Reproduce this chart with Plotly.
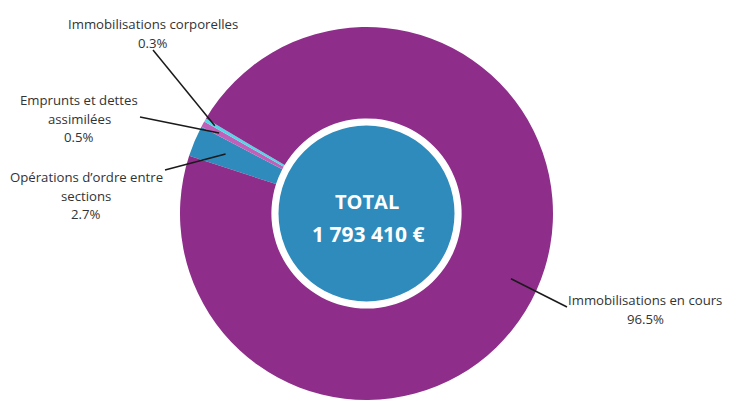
import math
import plotly.graph_objects as go

# data
labels = ["Opérations d’ordre entre sections", "Emprunts et dettes assimilées",
          "Immobilisations corporelles", "Immobilisations en cours"]
shares = [2.7, 0.5, 0.3, 96.5]
colors = ["#2E8BBB", "#C060B8", "#55D6E6", "#8E2E8A"]
total_text = "1 793 410 €"

# how each label is broken into lines
label_lines = [["Opérations d’ordre entre", "sections"],
               ["Emprunts et dettes", "assimilées"],
               ["Immobilisations corporelles"],
               ["Immobilisations en cours"]]

# label placement in screen pixels: text centre x, first line y, leader end, tip radius fraction
label_x = [86, 79, 153, 645]
label_y0 = [177, 100, 24, 300]
line_end = [(165, 170), (140, 117), (153, 50), (567, 307)]
tip_frac = [0.82, 0.9, 0.94, 0.85]
LINE_H = 18.5

# the page body keeps its default 8px margin, so the figure is sized to fit inside it
OFF = 8
W, H = 717, 392
L, R_M, T, B = 0, 0, 19, 0
PW, PH = W - L - R_M, H - T - B


def px(sx):
    return (sx - OFF - L) / PW


def py(sy):
    return 1 - (sy - OFF - T) / PH


cx, cy = OFF + L + PW / 2, OFF + T + PH / 2
R = min(PW, PH) / 2
ROTATION = -72

fig = go.Figure()
fig.add_trace(go.Pie(
    values=shares, labels=labels, sort=False, direction="clockwise",
    rotation=ROTATION, hole=0.51,
    marker=dict(colors=colors, line=dict(width=0)),
    textinfo="none", hoverinfo="label+percent", showlegend=False,
))

# centre disc
r_in = 88
fig.add_trace(go.Pie(
    values=[1], labels=["TOTAL"], sort=False, textinfo="none",
    marker=dict(colors=["#2E8BBB"], line=dict(width=0)),
    domain=dict(x=[px(cx - r_in), px(cx + r_in)],
                y=[py(cy + r_in), py(cy - r_in)]),
    hoverinfo="skip", showlegend=False,
))

tot = sum(shares)
start = 90 - ROTATION
acc = 0
shapes, annotations = [], []
for i, v in enumerate(shares):
    mid = start - (acc + v / 2) / tot * 360
    acc += v
    a = math.radians(mid)
    tx = cx + R * tip_frac[i] * math.cos(a)
    ty = cy - R * tip_frac[i] * math.sin(a)
    ex, ey = line_end[i]
    shapes.append(dict(type="line", xref="paper", yref="paper",
                       x0=px(tx), y0=py(ty), x1=px(ex), y1=py(ey),
                       line=dict(color="#1a1a1a", width=1.5)))
    lines = label_lines[i] + [f"{v}%"]
    for k, txt in enumerate(lines):
        annotations.append(dict(
            x=px(label_x[i]), y=py(label_y0[i] + k * LINE_H),
            xref="paper", yref="paper", text=txt, showarrow=False,
            xanchor="center", yanchor="middle",
            font=dict(size=13.2, color="#333333"),
        ))

annotations.append(dict(x=px(367), y=py(201), xref="paper", yref="paper",
                        text="<b>TOTAL</b>", showarrow=False,
                        font=dict(size=20, color="white")))
annotations.append(dict(x=px(368), y=py(234), xref="paper", yref="paper",
                        text=f"<b>{total_text}</b>", showarrow=False,
                        font=dict(size=21, color="white")))

fig.update_layout(
    width=W, height=H,
    margin=dict(l=L, r=R_M, t=T, b=B),
    paper_bgcolor="white", plot_bgcolor="white",
    font=dict(family="Open Sans", size=13, color="#333333"),
    shapes=shapes, annotations=annotations,
)

fig.write_html("out.html")
